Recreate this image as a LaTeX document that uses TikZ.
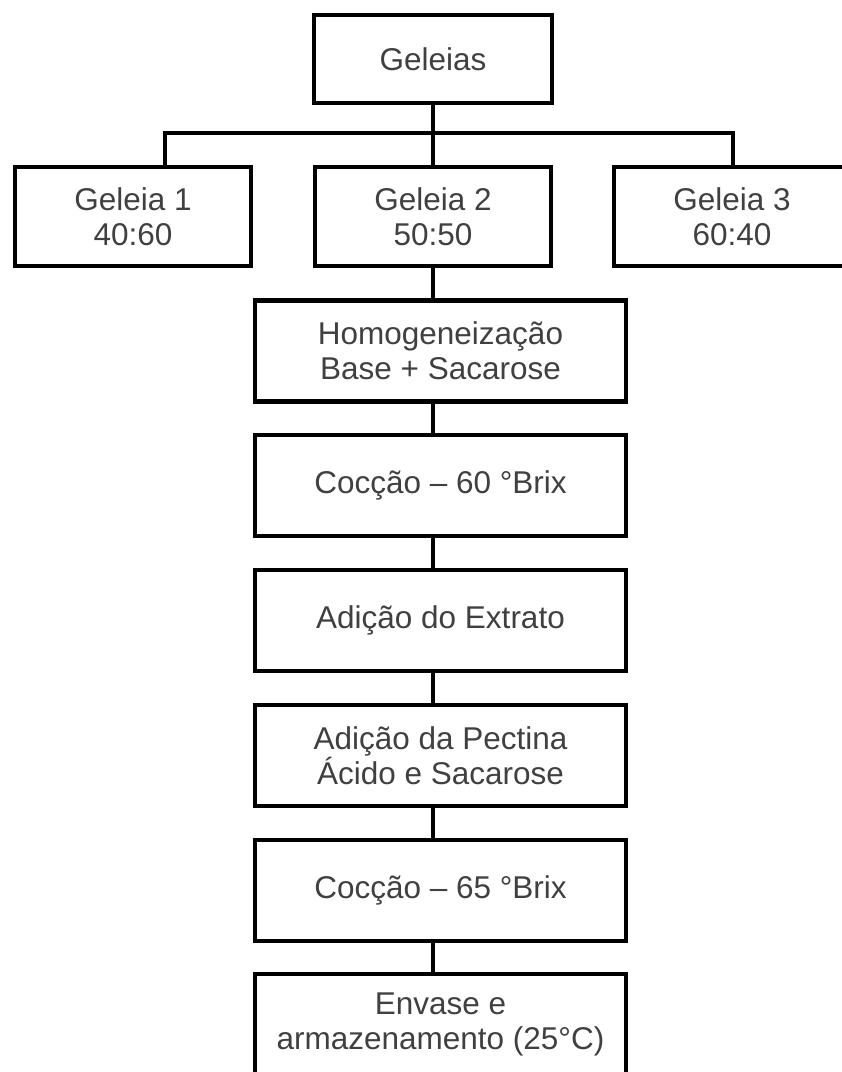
\documentclass[tikz,border=0pt]{standalone}
\usepackage{fontspec}
\setmainfont{Liberation Sans}
\begin{document}
\begin{tikzpicture}[x=1pt,y=-1pt,
  stage/.style={draw, line width=4.5pt, rectangle, align=center, inner sep=0pt,
    font=\fontsize{31.5}{35}\selectfont, text=black!75},
  wide/.style={stage, minimum width=371pt, minimum height=101pt},
  jar/.style={stage, minimum width=236pt, minimum height=99pt},
  link/.style={line width=4.5pt}]
  \useasboundingbox (0,0) rectangle (842,1072);
  \clip (0,0) rectangle (842,1072);

  \node[stage, minimum width=238pt, minimum height=88pt] (top) at (433,59) {Geleias};

  \node[jar] (g1) at (133,216.5) {Geleia 1\\40:60};
  \node[jar] (g2) at (433,216.5) {Geleia 2\\50:50};
  \node[jar] (g3) at (732,216.5) {Geleia 3\\60:40};

  \node[wide] (homog)  at (440.5,351)    {Homogeneização\\Base + Sacarose};
  \node[wide] (cocA)   at (440.5,485.5)  {Cocção -- 60 °Brix};
  \node[wide] (extr)   at (440.5,620.5)  {Adição do Extrato};
  \node[wide] (pect)   at (440.5,755.5)  {Adição da Pectina\\Ácido e Sacarose};
  \node[wide] (cocB)   at (440.5,890.5)  {Cocção -- 65 °Brix};
  \node[wide] (envase) at (440.5,1024.5) {Envase e\\armazenamento (25°C)};

  % bus to the three jellies
  \coordinate (busL) at (165,133);
  \coordinate (busR) at (733,133);
  \draw[link] (top.south) -- (g2.north);
  \draw[link] (busL |- g1.north) -- (busL) -- (busR) -- (busR |- g3.north);

  % process chain
  \draw[link] (g2.south) -- (g2.south |- homog.north);
  \draw[link] (g2.south |- homog.south) -- (g2.south |- cocA.north);
  \draw[link] (g2.south |- cocA.south) -- (g2.south |- extr.north);
  \draw[link] (g2.south |- extr.south) -- (g2.south |- pect.north);
  \draw[link] (g2.south |- pect.south) -- (g2.south |- cocB.north);
  \draw[link] (g2.south |- cocB.south) -- (g2.south |- envase.north);

\end{tikzpicture}
\end{document}
